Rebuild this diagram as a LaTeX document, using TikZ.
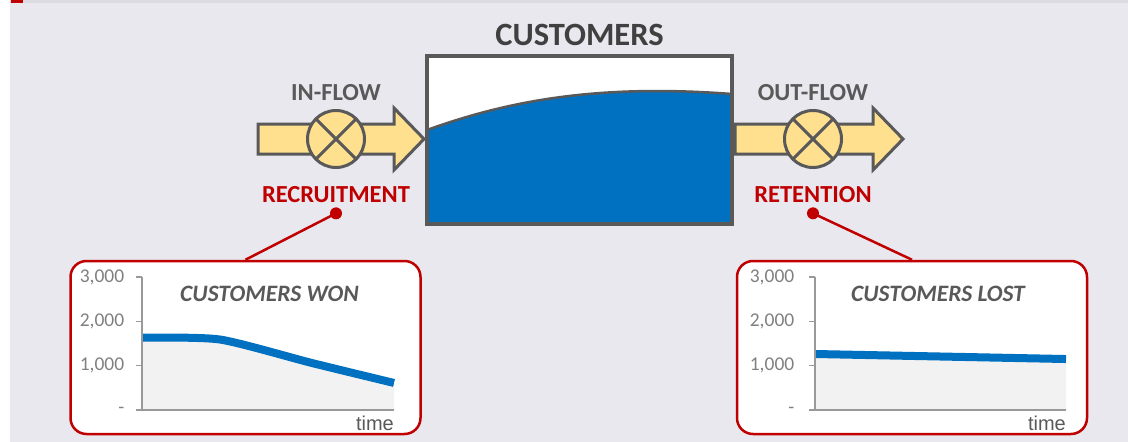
\documentclass[tikz,border=0pt]{standalone}
\usepackage{fontspec}
\setmainfont{Carlito}
\newfontfamily\axisfont{Liberation Sans}
\usetikzlibrary{positioning, calc}

\definecolor{panel}{HTML}{E9E8EF}
\definecolor{topband}{HTML}{DCDBE2}
\definecolor{framegray}{HTML}{595959}
\definecolor{titlegray}{HTML}{404040}
\definecolor{flowfill}{HTML}{FFE08F}
\definecolor{tankblue}{HTML}{0070C0}
\definecolor{darkred}{HTML}{C00000}
\definecolor{axisgray}{HTML}{808080}
\definecolor{axisline}{HTML}{999999}
\definecolor{areafill}{HTML}{F2F2F2}

\begin{document}
\begin{tikzpicture}[
    x=1pt, y=-1pt,
    edgeline/.style={draw=framegray, line width=3pt},
    flow/.style={edgeline, fill=flowfill, line join=miter},
    valve/.style={circle, edgeline, fill=flowfill, minimum size=57pt, inner sep=0pt,
      path picture={\draw[framegray, line width=3pt]
        (path picture bounding box.north west) -- (path picture bounding box.south east)
        (path picture bounding box.north east) -- (path picture bounding box.south west);}},
    tank/.style={rectangle, fill=white, minimum width=305pt, minimum height=168pt, inner sep=0pt},
    tankframe/.style={draw=framegray, line width=4pt},
    level/.style={draw=framegray, line width=2.5pt},
    tanktitle/.style={font=\fontsize{32.5}{36}\selectfont\bfseries, text=titlegray, inner sep=0pt},
    flowlabel/.style={font=\fontsize{24.5}{28}\selectfont\bfseries, text=framegray, inner sep=0pt},
    leverlabel/.style={flowlabel, text=darkred},
    leaderdot/.style={circle, fill=darkred, minimum size=12pt, inner sep=0pt},
    leader/.style={draw=darkred, line width=2.5pt},
    chartbox/.style={draw=darkred, line width=2.5pt, fill=white, rounded corners=16pt,
      minimum width=350pt, minimum height=173pt, inner sep=0pt},
    charttitle/.style={font=\fontsize{23.5}{27}\selectfont\bfseries\itshape, text=framegray, inner sep=0pt},
    ticklabel/.style={font=\fontsize{19.5}{22}\selectfont, text=axisgray, inner sep=0pt, anchor=east},
    timelabel/.style={font=\axisfont\fontsize{20}{22}\selectfont, text=framegray, inner sep=0pt},
    chartaxis/.style={draw=axisline, line width=1.5pt},
    series/.style={draw=tankblue, line width=8pt},
  ]
  \useasboundingbox (0,0) rectangle (1128,442);

  % page background
  \fill[white] (0,0) rectangle (10,442);
  \fill[panel] (10,3) rectangle (1128,442);
  \fill[topband] (10,0) rectangle (1128,3);
  \fill[darkred] (11,0) rectangle (23,3);

  % flow pipes
  \draw[flow] (258,124) -- (394,124) -- (394,108) -- (424,139) -- (394,170) -- (394,154) -- (258,154) -- cycle;
  \draw[flow] (735,124) -- (873,124) -- (873,108) -- (903,139) -- (873,170) -- (873,154) -- (735,154) -- cycle;

  % valves and their labels
  \node[valve] (inval) at (336,139) {};
  \node[valve] (outval) at (813,139) {};
  \node[flowlabel, above=8.5pt of inval] (inlabel) {IN-FLOW};
  \node[flowlabel, above=8.5pt of outval] (outlabel) {OUT-FLOW};
  \node[leverlabel, below=17.5pt of inval] (reclabel) {RECRUITMENT};
  \node[leverlabel, below=17.5pt of outval] (retlabel) {RETENTION};

  % stock tank
  \node[tank] (tank) at (579.5,140) {};
  \fill[tankblue] (tank.south west) -- (427,130) .. controls (510,100) and (600,84) .. (732,94) -- (tank.south east) -- cycle;
  \draw[level] (427,130) .. controls (510,100) and (600,84) .. (732,94);
  \draw[tankframe] (tank.north west) rectangle (tank.south east);
  \node[tanktitle, anchor=base] (tanktitle) at ([yshift=10pt]tank.north) {CUSTOMERS};

  % chart boxes with leaders
  \node[chartbox] (wonbox) at (245.5,347.5) {};
  \node[chartbox] (lostbox) at (912,347.5) {};
  \node[leaderdot, below=4pt of reclabel] (recdot) {};
  \node[leaderdot, below=4pt of retlabel] (retdot) {};
  \draw[leader] (recdot.center) -- (wonbox.north);
  \draw[leader] (retdot.center) -- (lostbox.north);

  % customers won
  \begin{scope}[shift={(142,410)}, y=0.04433pt]
    \fill[areafill] plot[smooth, tension=0.4] coordinates {(1,1630) (78,1590) (170,1060) (252,610)} -- (252,0) -- (1,0) -- cycle;
    \draw[series] plot[smooth, tension=0.4] coordinates {(1,1630) (78,1590) (170,1060) (252,610)};
    \draw[chartaxis] (0,3000) -- (0,0) -- (252,0) coordinate (wonend);
    \foreach \v/\t in {0/{-\hspace{21pt}},1000/{1,000},2000/{2,000},3000/{3,000}}
      \draw[chartaxis] (-6,\v) -- (0,\v) node[ticklabel, at start, xshift=-11pt] {\t};
  \end{scope}
  \node[charttitle, anchor=base] (wontitle) at ([xshift=24pt, yshift=-42pt]wonbox.north) {CUSTOMERS WON};
  \node[timelabel, anchor=north east] (wontime) at ([yshift=-6pt]wonend) {time};

  % customers lost
  \begin{scope}[shift={(815,410)}, y=0.04433pt]
    \fill[areafill] (1,1263) -- (251,1150) -- (251,0) -- (1,0) -- cycle;
    \draw[series] (1,1263) -- (251,1150);
    \draw[chartaxis] (0,3000) -- (0,0) -- (251,0) coordinate (lostend);
    \foreach \v/\t in {0/{-\hspace{21pt}},1000/{1,000},2000/{2,000},3000/{3,000}}
      \draw[chartaxis] (-6,\v) -- (0,\v) node[ticklabel, at start, xshift=-14pt] {\t};
  \end{scope}
  \node[charttitle, anchor=base] (losttitle) at ([xshift=26pt, yshift=-42pt]lostbox.north) {CUSTOMERS LOST};
  \node[timelabel, anchor=north east] (losttime) at ([yshift=-6pt]lostend) {time};
\end{tikzpicture}
\end{document}
